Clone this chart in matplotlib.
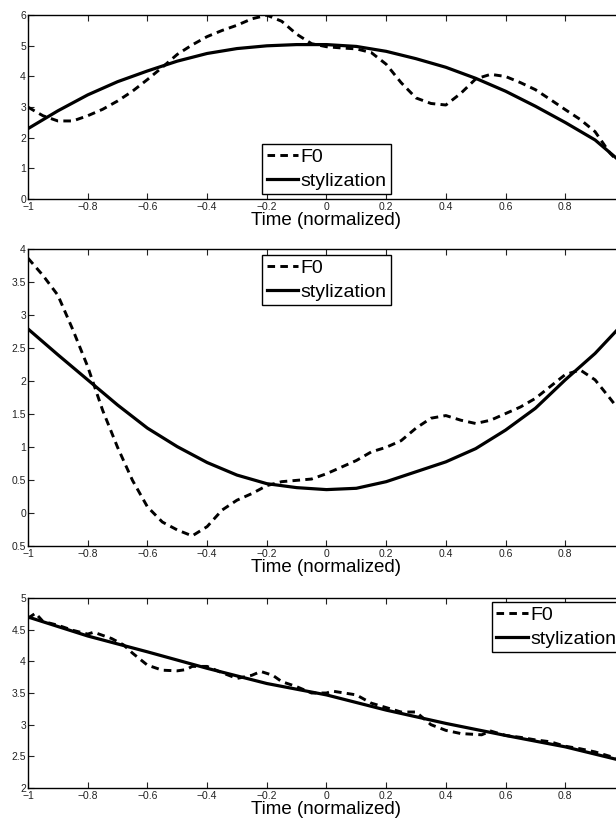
import numpy as np
import matplotlib
matplotlib.use("Agg")
import matplotlib.pyplot as plt

plt.rcParams['font.family'] = ['Liberation Sans', 'DejaVu Sans']

# ---- data ----
xt_vals = [-1, -0.8, -0.6, -0.4, -0.2, 0, 0.2, 0.4, 0.6, 0.8]
xt_labels = ['\u22121', '\u22120.8', '\u22120.6', '\u22120.4', '\u22120.2', '0', '0.2', '0.4', '0.6', '0.8']

# panel 1
x1_f0 = [-1, -0.95, -0.9, -0.85, -0.8, -0.75, -0.7, -0.65, -0.6, -0.55, -0.5,
         -0.45, -0.4, -0.35, -0.3, -0.25, -0.2, -0.15, -0.1, -0.05, 0,
         0.05, 0.1, 0.15, 0.2, 0.25, 0.3, 0.35, 0.4, 0.45, 0.5,
         0.55, 0.6, 0.65, 0.7, 0.75, 0.8, 0.85, 0.9, 0.95, 1.0]
f0_1 = [3.0, 2.72, 2.55, 2.55, 2.72, 2.93, 3.2, 3.52, 3.9, 4.3, 4.72,
        5.03, 5.3, 5.5, 5.67, 5.88, 6.0, 5.8, 5.38, 5.07, 4.97,
        4.93, 4.9, 4.78, 4.4, 3.8, 3.3, 3.12, 3.07, 3.45, 3.92,
        4.07, 4.0, 3.8, 3.57, 3.25, 2.92, 2.6, 2.2, 1.5, 1.0]
x1_st = [-1, -0.9, -0.8, -0.7, -0.6, -0.5, -0.4, -0.3, -0.2, -0.1, 0,
         0.1, 0.2, 0.3, 0.4, 0.5, 0.6, 0.7, 0.8, 0.9, 1.0]
st_1 = [2.3, 2.88, 3.4, 3.83, 4.18, 4.5, 4.75, 4.91, 5.0, 5.04, 5.04,
        4.98, 4.82, 4.58, 4.3, 3.94, 3.52, 3.03, 2.5, 1.93, 1.1]
yt1_vals = [0, 1, 2, 3, 4, 5, 6]
yt1_labels = ['0', '1', '2', '3', '4', '5', '6']

# panel 2
x2_f0 = x1_f0
f0_2 = [3.86, 3.6, 3.3, 2.78, 2.22, 1.56, 1.0, 0.5, 0.1, -0.13, -0.25,
        -0.34, -0.2, 0.05, 0.2, 0.3, 0.42, 0.48, 0.5, 0.52, 0.6,
        0.7, 0.8, 0.93, 1.0, 1.1, 1.29, 1.44, 1.48, 1.41, 1.36,
        1.41, 1.51, 1.61, 1.74, 1.92, 2.1, 2.17, 2.02, 1.74, 1.45]
x2_st = x1_st
st_2 = [2.79, 2.4, 2.02, 1.64, 1.29, 1.01, 0.77, 0.58, 0.45, 0.39, 0.36,
        0.38, 0.48, 0.63, 0.78, 0.98, 1.26, 1.59, 2.02, 2.42, 2.9]
yt2_vals = [-0.5, 0, 0.5, 1, 1.5, 2, 2.5, 3, 3.5, 4]
yt2_labels = ['0.5', '0', '0.5', '1', '1.5', '2', '2.5', '3', '3.5', '4']

# panel 3
x3_f0 = [-1, -0.975, -0.95, -0.9, -0.85, -0.8, -0.78, -0.72, -0.68, -0.65, -0.6,
         -0.55, -0.5, -0.47, -0.45, -0.4, -0.35, -0.3, -0.25, -0.22, -0.18,
         -0.15, -0.1, -0.05, 0, 0.02, 0.1, 0.15, 0.2, 0.25, 0.3,
         0.35, 0.4, 0.45, 0.52, 0.55, 0.6, 0.65, 0.7, 0.75, 0.8,
         0.85, 0.9, 0.95, 1.0]
f0_3 = [4.68, 4.76, 4.63, 4.57, 4.49, 4.43, 4.46, 4.36, 4.26, 4.13, 3.94,
        3.86, 3.85, 3.87, 3.92, 3.92, 3.82, 3.73, 3.78, 3.84, 3.78,
        3.68, 3.6, 3.5, 3.5, 3.53, 3.47, 3.34, 3.27, 3.2, 3.2,
        3.0, 2.91, 2.86, 2.84, 2.9, 2.83, 2.8, 2.76, 2.73, 2.66,
        2.62, 2.57, 2.5, 2.42]
x3_st = [-1, -0.8, -0.6, -0.4, -0.2, 0, 0.2, 0.4, 0.6, 0.8, 1.0]
st_3 = [4.70, 4.40, 4.15, 3.89, 3.65, 3.47, 3.23, 3.02, 2.83, 2.65, 2.42]
yt3_vals = [2, 2.5, 3, 3.5, 4, 4.5, 5]
yt3_labels = ['2', '2.5', '3', '3.5', '4', '4.5', '5']

panels = [
    (x1_f0, f0_1, x1_st, st_1, (0, 6), yt1_vals, yt1_labels,
     [0.0455, 0.758, 0.969, 0.2236], ('lower left', (0.392, 0.027))),
    (x2_f0, f0_2, x2_st, st_2, (-0.5, 4), yt2_vals, yt2_labels,
     [0.0455, 0.336, 0.969, 0.3615], ('upper left', (0.392, 0.98))),
    (x3_f0, f0_3, x3_st, st_3, (2, 5), yt3_vals, yt3_labels,
     [0.0455, 0.0425, 0.969, 0.2309], ('upper left', (0.777, 0.979))),
]

fig = plt.figure(figsize=(6.16, 8.23), dpi=100)

for xf, yf, xs, ys, ylim, ytv, ytl, pos, (lloc, lanchor) in panels:
    ax = fig.add_axes(pos)
    ax.plot(xf, yf, color='black', lw=2.1, linestyle=(0, (2.6, 1.8)), label='F0')
    ax.plot(xs, ys, color='black', lw=2.3, label='stylization')
    ax.set_xlim(-1, 1)
    ax.set_ylim(*ylim)
    ax.set_xticks(xt_vals)
    ax.set_xticklabels(xt_labels)
    ax.set_yticks(ytv)
    ax.set_yticklabels(ytl)
    ax.tick_params(direction='in', length=4, width=0.8, labelsize=7.5,
                   top=True, right=True, colors='#222222')
    ax.tick_params(axis='x', pad=2)
    ax.tick_params(axis='y', pad=1.5)
    for sp in ax.spines.values():
        sp.set_linewidth(1.0)
    ax.set_xlabel('Time (normalized)', fontsize=13.5, labelpad=0)
    leg = ax.legend(loc=lloc, bbox_to_anchor=lanchor, borderaxespad=0,
                    fontsize=14, handlelength=1.6, handletextpad=0.15,
                    labelspacing=0.3, borderpad=0.24, fancybox=False,
                    framealpha=1)
    leg.get_frame().set_edgecolor('black')
    leg.get_frame().set_linewidth(1.0)

fig.savefig('out.png', dpi=100)
